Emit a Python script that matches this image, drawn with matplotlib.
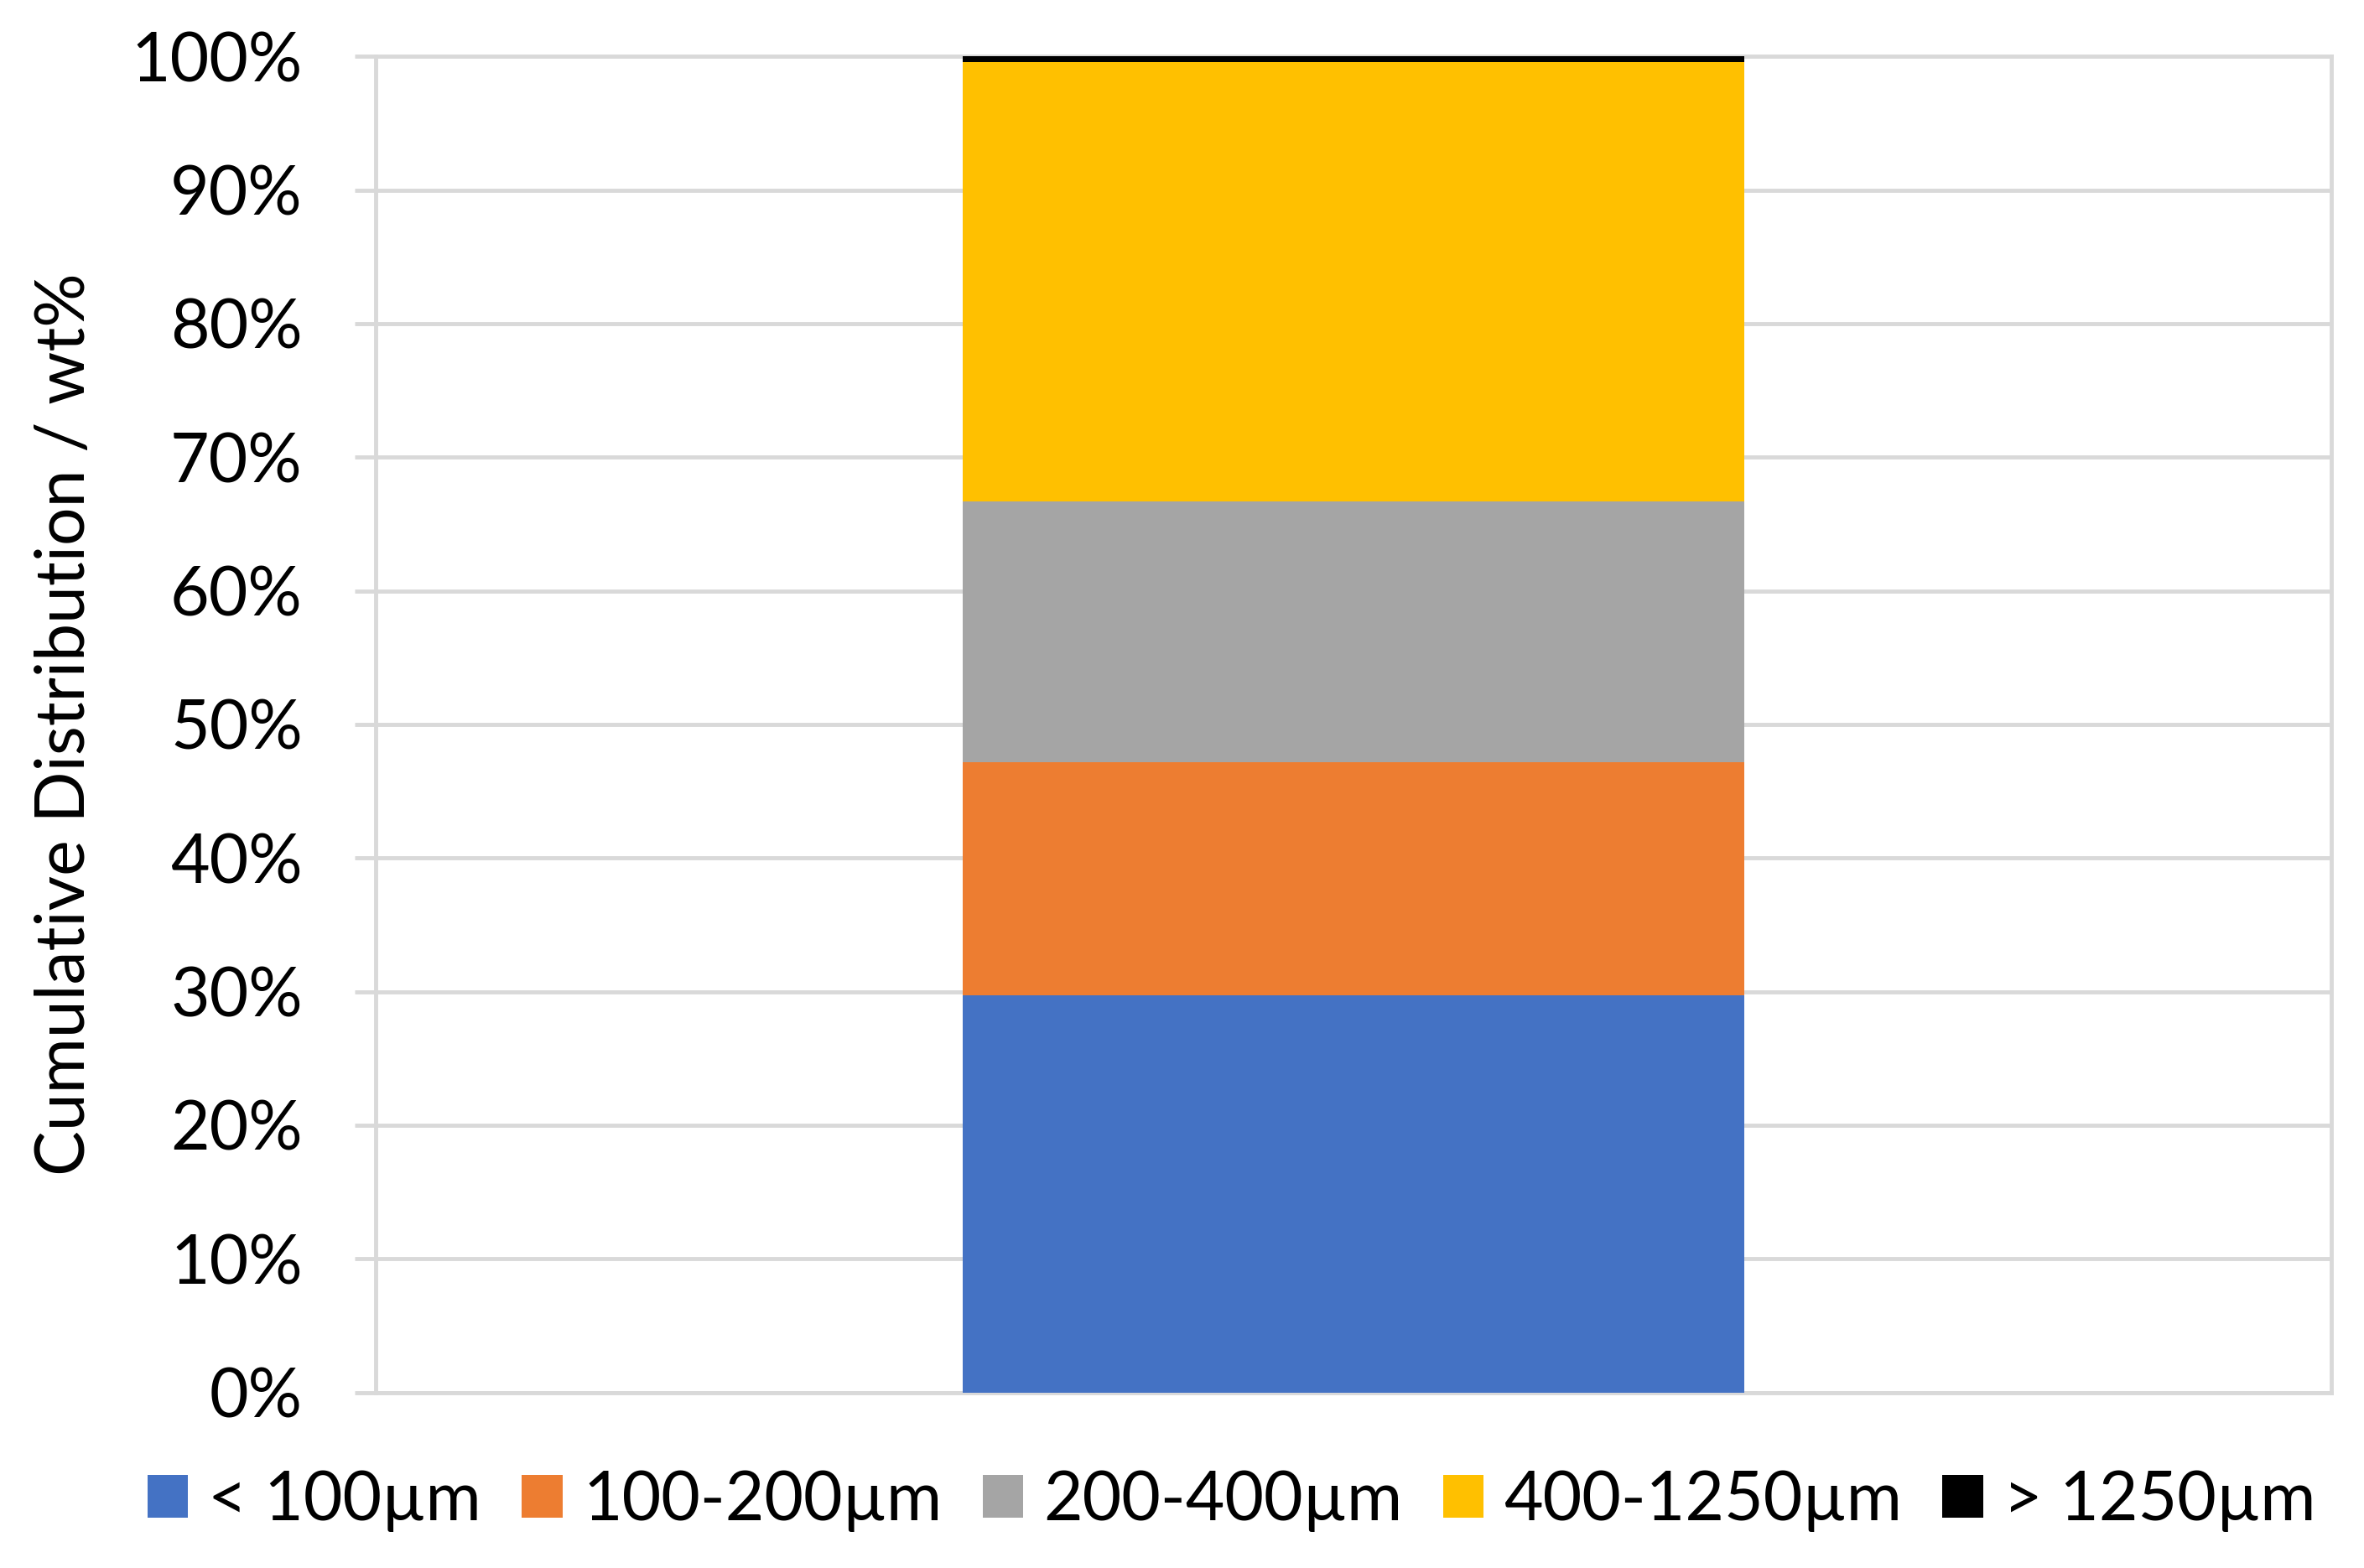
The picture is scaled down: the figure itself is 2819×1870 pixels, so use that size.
import matplotlib
matplotlib.use("Agg")
import matplotlib.pyplot as plt
from matplotlib.patches import Patch
from matplotlib.ticker import PercentFormatter

# stacked size fractions, wt% (bottom to top)
size_classes = ["< 100µm", "100-200µm", "200-400µm", "400-1250µm", "> 1250µm"]
wt_percent = [29.7, 17.5, 19.5, 32.9, 0.4]
class_colors = ["#4472C4", "#ED7D31", "#A5A5A5", "#FFC000", "#000000"]
y_ticks = [0, 10, 20, 30, 40, 50, 60, 70, 80, 90, 100]

plt.rcParams["font.family"] = ["Lato", "DejaVu Sans"]
GRID = "#d9d9d9"

fig = plt.figure(figsize=(28.19, 18.70), dpi=100)
ax = fig.add_axes([0.159, 0.112, 0.827, 0.852])

bottom = 0.0
for label, val, color in zip(size_classes, wt_percent, class_colors):
    ax.bar(0, val, width=0.4, bottom=bottom, color=color, label=label, zorder=3)
    bottom += val

ax.set_xlim(-0.5, 0.5)
ax.set_ylim(0, 100)
ax.set_yticks(y_ticks)
ax.yaxis.set_major_formatter(PercentFormatter(decimals=0))
ax.set_xticks([])

ax.grid(axis="y", color=GRID, linewidth=3.5, zorder=0)
for side in ["left", "right", "bottom", "top"]:
    ax.spines[side].set_color(GRID)
    ax.spines[side].set_linewidth(3.5)

ax.tick_params(axis="y", length=18, width=3.5, color=GRID, pad=45, labelsize=58)
ax.set_ylabel("Cumulative Distribution / wt%", fontsize=58)
ax.yaxis.set_label_coords(-0.143, 0.5)

handles = [Patch(facecolor=c, edgecolor="none") for c in class_colors]
fig.legend(
    handles,
    size_classes,
    loc="center",
    bbox_to_anchor=(0.521, 0.043),
    ncol=5,
    frameon=False,
    fontsize=58,
    handlelength=0.6,
    handleheight=0.6,
    handletextpad=0.3,
    columnspacing=0.6,
)

fig.savefig("out.png", dpi=100)
